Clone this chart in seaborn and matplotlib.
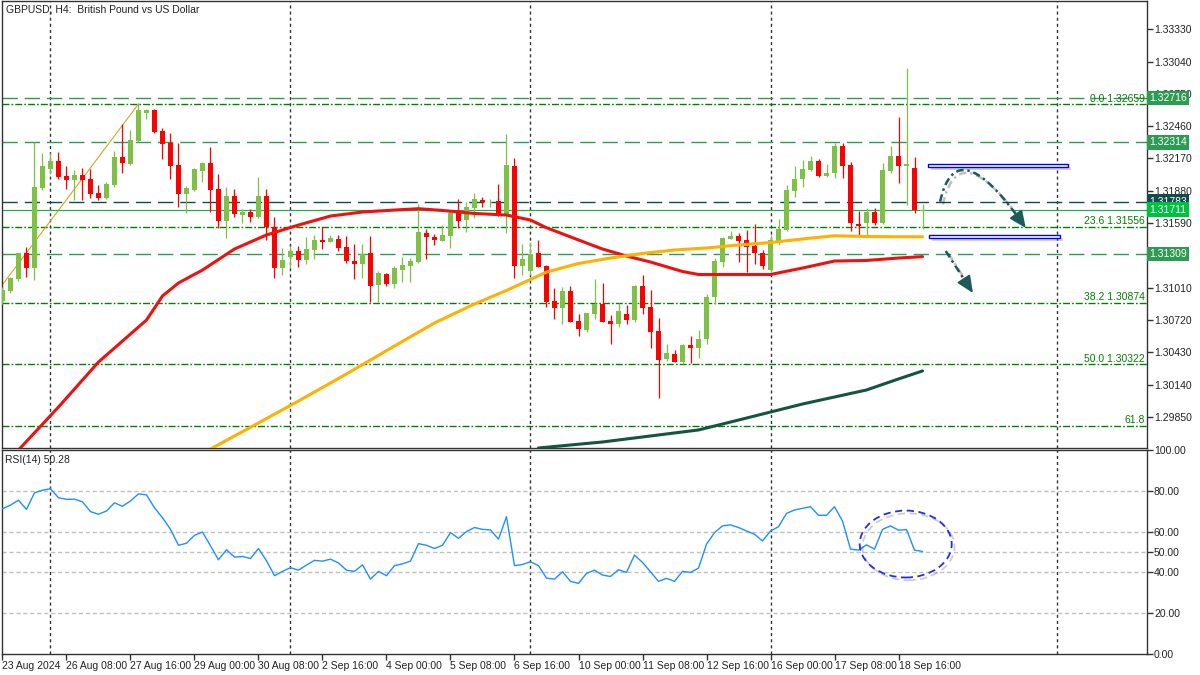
import numpy as np
import pandas as pd
import matplotlib
matplotlib.use("Agg")
import matplotlib.pyplot as plt
import matplotlib.patheffects as pe
import matplotlib.transforms as mtransforms
from matplotlib.patches import Ellipse, Rectangle
import seaborn as sns

# H4 candles, GBPUSD, 23 Aug 2024 00:00 .. 19 Sep 2024 04:00
opens = [1.30890, 1.30983, 1.31085, 1.31318, 1.31189, 1.31902, 1.32075, 1.32147, 1.32012, 1.31977,
         1.32021, 1.31986, 1.31860, 1.31815, 1.31932, 1.32183, 1.32120, 1.32327, 1.32581, 1.32605,
         1.32417, 1.32312, 1.32111, 1.31851, 1.31887, 1.32060, 1.32129, 1.31893, 1.31611, 1.31833,
         1.31665, 1.31689, 1.31647, 1.31833, 1.31557, 1.31189, 1.31288, 1.31339, 1.31258, 1.31348,
         1.31438, 1.31423, 1.31447, 1.31378, 1.31249, 1.31222, 1.31318, 1.31034, 1.31132, 1.31043,
         1.31168, 1.31207, 1.31243, 1.31498, 1.31467, 1.31432, 1.31474, 1.31698, 1.31617, 1.31728,
         1.31797, 1.31785, 1.31788, 1.31671, 1.32102, 1.31207, 1.31159, 1.31318, 1.31207, 1.30890,
         1.30830, 1.30980, 1.30710, 1.30630, 1.30773, 1.30863, 1.30710, 1.30683, 1.30773, 1.30719,
         1.31025, 1.30836, 1.30621, 1.30366, 1.30414, 1.30345, 1.30495, 1.30471, 1.30549, 1.30929,
         1.31243, 1.31447, 1.31474, 1.31438, 1.31384, 1.31318, 1.31168, 1.31429, 1.31528, 1.31881,
         1.31983, 1.32066, 1.32147, 1.32015, 1.32037, 1.32282, 1.32111, 1.31581, 1.31588, 1.31689,
         1.31588, 1.32060, 1.32192, 1.32105, 1.32087, 1.31700]
highs = [1.31016, 1.31109, 1.31322, 1.31378, 1.32315, 1.32216, 1.32216, 1.32231, 1.32102, 1.32066,
         1.32081, 1.32075, 1.31932, 1.31962, 1.32237, 1.32477, 1.32426, 1.32665, 1.32611, 1.32614,
         1.32441, 1.32401, 1.32306, 1.31923, 1.32084, 1.32135, 1.32273, 1.32030, 1.31911, 1.31893,
         1.31716, 1.31716, 1.32001, 1.31893, 1.31644, 1.31363, 1.31384, 1.31384, 1.31468, 1.31483,
         1.31557, 1.31483, 1.31483, 1.31474, 1.31402, 1.31402, 1.31477, 1.31162, 1.31144, 1.31204,
         1.31288, 1.31273, 1.31761, 1.31537, 1.31489, 1.31572, 1.31707, 1.31806, 1.31782, 1.31857,
         1.31827, 1.31806, 1.31941, 1.32390, 1.32177, 1.31402, 1.31417, 1.31438, 1.31210, 1.31009,
         1.31018, 1.31027, 1.30771, 1.30785, 1.31088, 1.31054, 1.30764, 1.30875, 1.30854, 1.31030,
         1.31124, 1.30989, 1.30735, 1.30504, 1.30450, 1.30500, 1.30576, 1.30630, 1.30953, 1.31273,
         1.31468, 1.31519, 1.31498, 1.31528, 1.31581, 1.31348, 1.31483, 1.31624, 1.31932, 1.32102,
         1.32156, 1.32192, 1.32165, 1.32120, 1.32306, 1.32306, 1.32135, 1.31698, 1.31723, 1.31728,
         1.32132, 1.32282, 1.32545, 1.32985, 1.32186, 1.31761]
lows = [1.30863, 1.30965, 1.31070, 1.31109, 1.31079, 1.31887, 1.32030, 1.31986, 1.31896, 1.31797,
        1.31797, 1.31812, 1.31797, 1.31806, 1.31911, 1.32042, 1.32115, 1.32320, 1.32524, 1.32401,
        1.32165, 1.31986, 1.31737, 1.31677, 1.31881, 1.31961, 1.31686, 1.31543, 1.31453, 1.31642,
        1.31593, 1.31602, 1.31635, 1.31438, 1.31100, 1.31124, 1.31184, 1.31193, 1.31222, 1.31267,
        1.31357, 1.31417, 1.31339, 1.31229, 1.31088, 1.31100, 1.30878, 1.30878, 1.31027, 1.31009,
        1.31063, 1.31063, 1.31229, 1.31267, 1.31393, 1.31428, 1.31369, 1.31543, 1.31512, 1.31638,
        1.31737, 1.31731, 1.31656, 1.31498, 1.31100, 1.31124, 1.31124, 1.31195, 1.30834, 1.30728,
        1.30681, 1.30700, 1.30578, 1.30614, 1.30728, 1.30700, 1.30501, 1.30659, 1.30683, 1.30704,
        1.30771, 1.30471, 1.30022, 1.30351, 1.30340, 1.30322, 1.30331, 1.30381, 1.30504, 1.30860,
        1.31198, 1.31444, 1.31243, 1.31146, 1.31218, 1.31177, 1.31150, 1.31393, 1.31521, 1.31827,
        1.31917, 1.32060, 1.32001, 1.32001, 1.31992, 1.31992, 1.31521, 1.31474, 1.31474, 1.31572,
        1.31579, 1.32042, 1.31952, 1.31752, 1.31683, 1.31534]
closes = [1.30989, 1.31094, 1.31318, 1.31189, 1.31911, 1.32102, 1.32147, 1.32006, 1.31977, 1.32021,
          1.31977, 1.31851, 1.31815, 1.31941, 1.32180, 1.32129, 1.32336, 1.32605, 1.32605, 1.32408,
          1.32303, 1.32105, 1.31851, 1.31902, 1.32075, 1.32129, 1.31887, 1.31611, 1.31833, 1.31674,
          1.31689, 1.31647, 1.31833, 1.31557, 1.31189, 1.31258, 1.31339, 1.31258, 1.31357, 1.31438,
          1.31423, 1.31459, 1.31369, 1.31249, 1.31222, 1.31312, 1.31027, 1.31139, 1.31043, 1.31189,
          1.31213, 1.31249, 1.31507, 1.31467, 1.31438, 1.31483, 1.31683, 1.31611, 1.31731, 1.31803,
          1.31782, 1.31790, 1.31669, 1.32111, 1.31207, 1.31267, 1.31312, 1.31198, 1.30884, 1.30830,
          1.30980, 1.30704, 1.30639, 1.30780, 1.30863, 1.30704, 1.30686, 1.30800, 1.30719, 1.31025,
          1.30830, 1.30614, 1.30360, 1.30420, 1.30345, 1.30495, 1.30471, 1.30549, 1.30929, 1.31249,
          1.31459, 1.31474, 1.31432, 1.31378, 1.31321, 1.31204, 1.31438, 1.31537, 1.31887, 1.31986,
          1.32073, 1.32147, 1.32015, 1.32037, 1.32282, 1.32105, 1.31588, 1.31566, 1.31689, 1.31593,
          1.32066, 1.32192, 1.32105, 1.32118, 1.31707, 1.31711]

rsi = [71.2, 73.0, 75.4, 70.9, 79.0, 80.3, 81.0, 76.6, 75.8, 75.9,
       74.6, 69.8, 68.5, 70.1, 74.1, 72.4, 75.0, 78.5, 78.0, 71.7,
       66.8, 61.1, 53.3, 54.3, 58.2, 59.8, 53.0, 46.2, 51.1, 47.5,
       47.8, 46.8, 51.7, 45.7, 38.4, 40.5, 42.3, 41.1, 43.6, 45.9,
       45.5, 46.5, 44.6, 41.1, 40.5, 43.7, 36.7, 40.5, 38.4, 43.3,
       44.2, 45.5, 54.1, 53.3, 51.7, 53.3, 59.5, 56.7, 60.0, 62.0,
       61.1, 60.8, 56.3, 67.3, 43.3, 43.9, 45.2, 43.3, 37.2, 36.7,
       40.3, 35.6, 34.6, 39.5, 41.1, 38.7, 38.0, 41.3, 40.0, 48.5,
       44.9, 40.3, 35.6, 37.1, 35.6, 40.5, 40.0, 42.1, 53.8, 59.5,
       62.8, 63.3, 62.0, 60.3, 58.7, 55.4, 60.3, 62.4, 68.9, 70.6,
       71.4, 72.2, 68.0, 68.0, 72.2, 65.2, 51.4, 50.9, 53.5, 51.4,
       61.1, 62.8, 60.7, 61.0, 50.9, 50.28]

# moving averages read at some bars
ma_red_bars = [2, 7, 12, 18, 20, 22, 25, 29, 33, 37, 41, 45, 49, 52, 55, 59, 63, 66, 68, 72,
               75, 78, 81, 85, 87, 92, 96, 100, 104, 108, 112, 115]
ma_red = [1.29552, 1.29938, 1.30342, 1.30719, 1.30935, 1.31052, 1.31168, 1.31357, 1.31483, 1.31572,
          1.31653, 1.31689, 1.31707, 1.31719, 1.31703, 1.31676, 1.31662, 1.31617, 1.31548, 1.31438,
          1.31357, 1.31294, 1.31240, 1.31155, 1.31128, 1.31128, 1.31128, 1.31186, 1.31249, 1.31254,
          1.31276, 1.31288]
ma_orange_bars = [26, 32, 37, 43, 49, 54, 59, 63, 68, 72, 76, 80, 84, 88, 92, 96, 100, 104, 108, 112, 115]
ma_orange = [1.29561, 1.29795, 1.29992, 1.30235, 1.30486, 1.30693, 1.30863, 1.30985, 1.31150, 1.31227,
             1.31276, 1.31317, 1.31348, 1.31366, 1.31393, 1.31415, 1.31447, 1.31476, 1.31469, 1.31467,
             1.31467]
ma_green_bars = [67, 75, 81, 87, 92, 96, 100, 104, 108, 112, 115]
ma_green = [1.29570, 1.29624, 1.29678, 1.29732, 1.29821, 1.29893, 1.29965, 1.30028, 1.30091, 1.30190,
            1.30262]

time_labels = ["23 Aug 2024", "26 Aug 08:00", "27 Aug 16:00", "29 Aug 00:00", "30 Aug 08:00",
               "2 Sep 16:00", "4 Sep 00:00", "5 Sep 08:00", "6 Sep 16:00", "10 Sep 00:00",
               "11 Sep 08:00", "12 Sep 16:00", "16 Sep 00:00", "17 Sep 08:00", "18 Sep 16:00"]
time_label_bars = [0, 8, 16, 24, 32, 40, 48, 56, 64, 72, 80, 88, 96, 104, 112]
week_grid_bars = [6, 36, 66, 96, 131.8]

# 1.31300 sits under the 1.31309 box, so it is left out
price_ticks = [1.29850, 1.30140, 1.30430, 1.30720, 1.31010, 1.31590, 1.31880,
               1.32170, 1.32460, 1.32750, 1.33040, 1.33330]
rsi_ticks = [0, 20, 40, 50, 60, 80, 100]

fib_levels = [1.32659, 1.31556, 1.30874, 1.30322, 1.29770]
fib_labels = ["0.0 1.32659", "23.6 1.31556", "38.2 1.30874", "50.0 1.30322", "61.8"]
fib_base_bars = [-32, 17]
fib_base_prices = [1.27985, 1.32659]

hlines = [1.32716, 1.32314, 1.31783, 1.31309]
hline_colors = ["#2E9B52", "#2E9B52", "#0F4C4C", "#2E9B52"]
bid = 1.31711

BULL = "#7DC242"
BEAR = "#FF0000"
FIB = "#008000"
TEAL = "#1D5A5A"

sns.set_style("white")
plt.rcParams["font.family"] = ["Liberation Sans", "DejaVu Sans"]

df = pd.DataFrame({"open": opens, "high": highs, "low": lows, "close": closes})
df["bar"] = np.arange(len(df))
up = df["close"] >= df["open"]
colors = np.where(up, BULL, BEAR)

fig = plt.figure(figsize=(12, 6.75), dpi=100)
ax = fig.add_axes([2 / 1200, 227 / 675, 1145 / 1200, 447 / 675])
rax = fig.add_axes([2 / 1200, 21 / 675, 1145 / 1200, 204 / 675])

# grid and levels
for a in (ax, rax):
    for b in week_grid_bars:
        a.axvline(b, color="#333333", lw=1, ls=(0, (2.2, 2.2)), zorder=1)

for lvl, lab in zip(fib_levels, fib_labels):
    ax.axhline(lvl, color=FIB, lw=1, ls=(0, (5, 1.5, 1.2, 1.5)), zorder=2)
    ax.text(142.8, lvl + 0.00004, lab, color=FIB, fontsize=7.5, ha="right", va="bottom", zorder=5)
ax.plot(fib_base_bars, fib_base_prices, color="#DAA520", lw=0.8, zorder=2)

for lvl, c in zip(hlines, hline_colors):
    ax.axhline(lvl, color=c, lw=1, ls=(0, (11, 5)), zorder=2)
ax.axhline(bid, color="#22B04A", lw=0.9, zorder=2)

# candles
ax.vlines(df["bar"], df["low"], df["high"], colors=colors, lw=0.9, zorder=3)
body = (df["close"] - df["open"]).abs().clip(lower=0.00007)
ax.bar(df["bar"], body, bottom=df[["open", "close"]].min(axis=1), width=0.62,
       color=colors, linewidth=0, zorder=4)

# moving averages
sns.lineplot(x=ma_red_bars, y=ma_red, ax=ax, color="#EE1111", lw=2.2, zorder=5)
sns.lineplot(x=ma_orange_bars, y=ma_orange, ax=ax, color="#FFB000", lw=2.2, zorder=5)
sns.lineplot(x=ma_green_bars, y=ma_green, ax=ax, color="#15543F", lw=2.2, zorder=5)

# zones and arrows
shadow = [pe.SimplePatchShadow(offset=(2, -2), alpha=0.25), pe.Normal()]
for x0, x1, y0, y1 in [(115.7, 133.2, 1.32089, 1.32116), (115.8, 132.2, 1.31456, 1.31483)]:
    ax.add_patch(Rectangle((x0, y0), x1 - x0, y1 - y0, facecolor="white", edgecolor="#0000FF",
                           lw=1, zorder=6, path_effects=shadow))

lshadow = [pe.SimpleLineShadow(offset=(2, -2), alpha=0.25), pe.Normal()]
p0 = np.array([117.2, 1.31782])
p1 = np.array([119.25, 1.32450])
p2 = np.array([127.9, 1.31546])
t = np.linspace(0, 0.93, 60)[:, None]
curve = (1 - t) ** 2 * p0 + 2 * (1 - t) * t * p1 + t ** 2 * p2
ax.plot(curve[:, 0], curve[:, 1], color=TEAL, lw=1.8, ls=(0, (3, 1.5, 1, 1.5)), zorder=7,
        path_effects=lshadow)
head = dict(arrowstyle="-|>,head_length=1.0,head_width=0.45", color=TEAL, lw=1.5,
            mutation_scale=10, shrinkA=0, shrinkB=0)
ax.annotate("", xy=tuple(p2), xytext=tuple(curve[-1]), arrowprops=head, zorder=8)
s0 = np.array([117.9, 1.31339])
s1 = np.array([121.3, 1.30962])
ax.plot([s0[0], s0[0] + 0.85 * (s1[0] - s0[0])], [s0[1], s0[1] + 0.85 * (s1[1] - s0[1])],
        color=TEAL, lw=1.8, ls=(0, (3, 1.5, 1, 1.5)), zorder=7, path_effects=lshadow)
ax.annotate("", xy=tuple(s1), xytext=tuple(s0 + 0.8 * (s1 - s0)), arrowprops=head, zorder=8)

ax.set_xlim(-0.06, 143.06)
ax.set_ylim(1.29570, 1.33584)
ax.set_xticks([])
ax.yaxis.tick_right()
ax.set_yticks(price_ticks)
ax.set_yticklabels([f"{v:.5f}" for v in price_ticks])
ax.tick_params(axis="y", right=True, length=4, width=1, color="#333333", labelsize=7.5,
               labelcolor="#222222", pad=1)

# price boxes on the axis
btrans = mtransforms.blended_transform_factory(ax.transAxes, ax.transData)
boxes = [(1.32716, "#2E9B52"), (1.32314, "#2E9B52"), (1.31783, "#0F4C4C"),
         (bid, "#00C040"), (1.31309, "#2E9B52")]
for lvl, c in boxes:
    ax.text(1.0022, lvl, f"{lvl:.5f}", transform=btrans, fontsize=7.5, color="white",
            ha="left", va="center", zorder=10, clip_on=False,
            bbox=dict(boxstyle="square,pad=0.2", facecolor=c, edgecolor="none"))

# RSI panel
for lvl in [20, 40, 50, 60, 80]:
    rax.axhline(lvl, color="#C0C0C0", lw=1, ls=(0, (3, 2)), zorder=1)
sns.lineplot(x=df["bar"], y=rsi, ax=rax, color="#1E90FF", lw=1, zorder=4)
rax.add_patch(Ellipse((112.9, 53.9), 11.5, 32.8, fill=False, edgecolor="#2B2BE6", lw=1.3,
                      ls=(0, (4, 2.5)), zorder=6,
                      path_effects=[pe.SimpleLineShadow(offset=(2, -2), alpha=0.2), pe.Normal()]))
rax.set_xlim(-0.06, 143.06)
rax.set_ylim(0, 100)
rax.yaxis.tick_right()
rax.set_yticks(rsi_ticks)
rax.set_yticklabels([f"{v:.2f}" for v in rsi_ticks])
rax.set_xticks(time_label_bars)
rax.set_xticklabels(time_labels, ha="left")
rax.tick_params(axis="y", right=True, length=4, width=1, color="#333333", labelsize=7.5,
                labelcolor="#222222", pad=1)
rax.tick_params(axis="x", bottom=True, length=4, width=1, color="#333333", labelsize=7.5,
                labelcolor="#222222", pad=1)
rax.set_xlabel("")
rax.set_ylabel("")
ax.set_xlabel("")
ax.set_ylabel("")

for a in (ax, rax):
    for s in a.spines.values():
        s.set_color("#333333")
        s.set_linewidth(1)

fig.text(6 / 1200, 1 - 9 / 675, "GBPUSD, H4:  British Pound vs US Dollar", fontsize=7.5,
         color="#222222", va="center", ha="left")
fig.text(5 / 1200, 1 - 460 / 675, "RSI(14) 50.28", fontsize=7.5, color="#222222",
         va="center", ha="left")

fig.savefig("out.png", dpi=100)
